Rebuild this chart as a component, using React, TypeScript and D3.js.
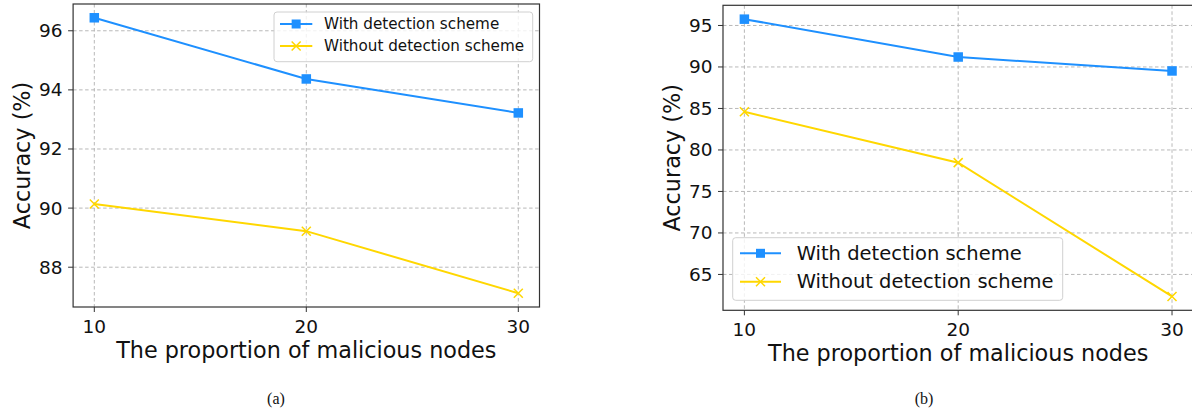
import React from "react";
import * as d3 from "d3";

const categories = [10, 20, 30];
const xTicks = [10, 20, 30];

const withDetectionA = [96.44, 94.37, 93.22];
const withoutDetectionA = [90.14, 89.22, 87.12];
const yTicksA = [88, 90, 92, 94, 96];

const withDetectionB = [95.76, 91.2, 89.52];
const withoutDetectionB = [84.6, 78.47, 62.35];
const yTicksB = [65, 70, 75, 80, 85, 90, 95];

const seriesNames = ["With detection scheme", "Without detection scheme"];
const xLabel = "The proportion of malicious nodes";
const yLabel = "Accuracy (%)";
const captions = ["(a)", "(b)"];

const BLUE = "#1e90ff";
const GOLD = "#ffd700";
const FONT = "'DejaVu Sans', sans-serif";

type PanelCfg = {
  left: number;
  right: number;
  top: number;
  bottom: number;
  s1: number[];
  s2: number[];
  yTicks: number[];
  yLabelX: number;
  legend: { x0: number; x1: number; y0: number; y1: number; hx0: number; hx1: number; tx: number; rows: number[]; font: number };
  caption: string;
  captionX: number;
};

function padDomain(vals: number[]): [number, number] {
  const [a, b] = d3.extent(vals) as [number, number];
  const m = (b - a) * 0.05;
  return [a - m, b + m];
}

function Marker({ kind, x, y, size }: { kind: "square" | "x"; x: number; y: number; size: number }) {
  if (kind === "square") {
    return <rect x={x - size / 2} y={y - size / 2} width={size} height={size} fill={BLUE} />;
  }
  const h = size / 2;
  return (
    <path d={`M${x - h},${y - h}L${x + h},${y + h}M${x - h},${y + h}L${x + h},${y - h}`} stroke={GOLD} strokeWidth={1.5} fill="none" />
  );
}

function Panel({ cfg }: { cfg: PanelCfg }) {
  const xDom = padDomain(categories);
  const x = d3.scaleLinear().domain(xDom).range([cfg.left, cfg.right]);
  const y = d3.scaleLinear().domain(padDomain([...cfg.s1, ...cfg.s2])).range([cfg.bottom, cfg.top]);
  const line = d3
    .line<number>()
    .x((_, i) => x(categories[i]))
    .y((d) => y(d));
  const midY = (cfg.top + cfg.bottom) / 2;
  const midX = (x(10) + x(30)) / 2;
  const lg = cfg.legend;
  const clipId = "clip-" + cfg.caption.replace(/\W/g, "");
  return (
    <g>
      <defs>
        <clipPath id={clipId}>
          <rect x={cfg.left} y={cfg.top} width={cfg.right - cfg.left} height={cfg.bottom - cfg.top} />
        </clipPath>
      </defs>
      {/* grid */}
      <g stroke="#b0b0b0" strokeWidth={0.9} strokeDasharray="3.5,2.5">
        {xTicks.map((t) => (
          <line key={"gx" + t} x1={x(t)} x2={x(t)} y1={cfg.top} y2={cfg.bottom} />
        ))}
        {cfg.yTicks.map((t) => (
          <line key={"gy" + t} x1={cfg.left} x2={cfg.right} y1={y(t)} y2={y(t)} />
        ))}
      </g>
      {/* series */}
      <g clipPath={`url(#${clipId})`}>
        <path d={line(cfg.s1) || ""} stroke={BLUE} strokeWidth={2} fill="none" />
        <path d={line(cfg.s2) || ""} stroke={GOLD} strokeWidth={2} fill="none" />
        {cfg.s1.map((v, i) => (
          <Marker key={"m1" + i} kind="square" x={x(categories[i])} y={y(v)} size={9.5} />
        ))}
        {cfg.s2.map((v, i) => (
          <Marker key={"m2" + i} kind="x" x={x(categories[i])} y={y(v)} size={9} />
        ))}
      </g>
      {/* spines */}
      <rect x={cfg.left} y={cfg.top} width={cfg.right - cfg.left} height={cfg.bottom - cfg.top} fill="none" stroke="#333" strokeWidth={1.2} />
      {/* ticks */}
      <g stroke="#333" strokeWidth={1}>
        {xTicks.map((t) => (
          <line key={"tx" + t} x1={x(t)} x2={x(t)} y1={cfg.bottom} y2={cfg.bottom + 5} />
        ))}
        {cfg.yTicks.map((t) => (
          <line key={"ty" + t} x1={cfg.left - 5} x2={cfg.left} y1={y(t)} y2={y(t)} />
        ))}
      </g>
      <g fontFamily={FONT} fontSize={18.5} fill="#111">
        {xTicks.map((t) => (
          <text key={"lx" + t} x={x(t)} y={cfg.bottom + 25.5} textAnchor="middle">
            {t}
          </text>
        ))}
        {cfg.yTicks.map((t) => (
          <text key={"ly" + t} x={cfg.left - 10.5} y={y(t)} textAnchor="end" dominantBaseline="central">
            {t}
          </text>
        ))}
      </g>
      <text x={midX} y={cfg.bottom + 51} textAnchor="middle" fontFamily={FONT} fontSize={22.3} fill="#111">
        {xLabel}
      </text>
      <text
        transform={`translate(${cfg.yLabelX},${midY}) rotate(-90)`}
        textAnchor="middle"
        dominantBaseline="central"
        fontFamily={FONT}
        fontSize={22.3}
        fill="#111"
      >
        {yLabel}
      </text>
      {/* legend */}
      <rect x={lg.x0} y={lg.y0} width={lg.x1 - lg.x0} height={lg.y1 - lg.y0} rx={3} fill="#fff" fillOpacity={0.8} stroke="#d0d0d0" strokeWidth={1} />
      {seriesNames.map((name, i) => {
        const ry = lg.rows[i];
        const cx = (lg.hx0 + lg.hx1) / 2;
        return (
          <g key={name}>
            <line x1={lg.hx0} x2={lg.hx1} y1={ry} y2={ry} stroke={i === 0 ? BLUE : GOLD} strokeWidth={2} />
            <Marker kind={i === 0 ? "square" : "x"} x={cx} y={ry} size={9} />
            <text x={lg.tx} y={ry} dominantBaseline="central" fontFamily={FONT} fontSize={lg.font} fill="#111">
              {name}
            </text>
          </g>
        );
      })}
      <text x={cfg.captionX} y={404} textAnchor="middle" fontFamily="'Liberation Serif', serif" fontSize={16} fill="#111">
        {cfg.caption}
      </text>
    </g>
  );
}

const panels: PanelCfg[] = [
  {
    left: 73.1,
    right: 539.5,
    top: 4,
    bottom: 307,
    s1: withDetectionA,
    s2: withoutDetectionA,
    yTicks: yTicksA,
    yLabelX: 22,
    legend: { x0: 274, x1: 532.7, y0: 12, y1: 61.7, hx0: 280, hx1: 312.3, tx: 324, rows: [24, 46], font: 15.2 },
    caption: captions[0],
    captionX: 276,
  },
  {
    left: 723,
    right: 1193.4,
    top: 5.3,
    bottom: 310.3,
    s1: withDetectionB,
    s2: withoutDetectionB,
    yTicks: yTicksB,
    yLabelX: 672,
    legend: { x0: 732.7, x1: 1062.7, y0: 237.7, y1: 300.3, hx0: 740, hx1: 781, tx: 796.7, rows: [253.3, 281.7], font: 19.5 },
    caption: captions[1],
    captionX: 924,
  },
];

export default function App() {
  return (
    <svg
      width={1192}
      height={415}
      style={{ position: "absolute", left: 0, top: 0, background: "#fff" }}
    >
      <rect width={1192} height={415} fill="#fff" />
      {panels.map((p) => (
        <Panel key={p.caption} cfg={p} />
      ))}
    </svg>
  );
}
